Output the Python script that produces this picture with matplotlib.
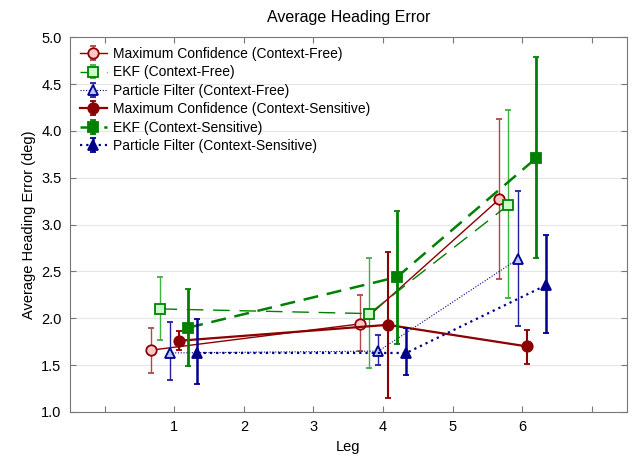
import numpy as np
import matplotlib
matplotlib.use('Agg')
import matplotlib.pyplot as plt

plt.rcParams['font.family'] = ['Liberation Sans', 'DejaVu Sans']

# legs and values
legs = [1, 4, 6]
offsets = [-0.333, -0.2, -0.067, 0.067, 0.2, 0.333]

labels = ['Maximum Confidence (Context-Free)',
          'EKF (Context-Free)',
          'Particle Filter (Context-Free)',
          'Maximum Confidence (Context-Sensitive)',
          'EKF (Context-Sensitive)',
          'Particle Filter (Context-Sensitive)']

mc_cf = [1.66, 1.94, 3.27]
mc_cf_lo = [1.42, 1.65, 2.42]
mc_cf_hi = [1.90, 2.25, 4.13]

ekf_cf = [2.10, 2.05, 3.21]
ekf_cf_lo = [1.77, 1.47, 2.22]
ekf_cf_hi = [2.44, 2.64, 4.22]

pf_cf = [1.63, 1.65, 2.63]
pf_cf_lo = [1.34, 1.50, 1.92]
pf_cf_hi = [1.96, 1.82, 3.36]

mc_cs = [1.76, 1.93, 1.70]
mc_cs_lo = [1.66, 1.15, 1.51]
mc_cs_hi = [1.86, 2.71, 1.88]

ekf_cs = [1.90, 2.44, 3.71]
ekf_cs_lo = [1.49, 1.73, 2.64]
ekf_cs_hi = [2.31, 3.15, 4.79]

pf_cs = [1.63, 1.63, 2.35]
pf_cs_lo = [1.30, 1.39, 1.84]
pf_cs_hi = [1.99, 1.90, 2.89]

series = [(mc_cf, mc_cf_lo, mc_cf_hi), (ekf_cf, ekf_cf_lo, ekf_cf_hi),
          (pf_cf, pf_cf_lo, pf_cf_hi), (mc_cs, mc_cs_lo, mc_cs_hi),
          (ekf_cs, ekf_cs_lo, ekf_cs_hi), (pf_cs, pf_cs_lo, pf_cs_hi)]

red = '#8B0000'
green = '#008000'
blue = '#00008B'
styles = [
    dict(color=red, ls='-', lw=1.0, marker='o', mfc='#FFC8C8', ecolor='#B04848', elw=1.0, ms=7.5),
    dict(color=green, ls=(0, (12, 7)), lw=1.0, marker='s', mfc='#C8FFC8', ecolor='#40B040', elw=1.0, ms=7.5),
    dict(color=blue, ls=(0, (1, 1.5)), lw=0.8, marker='^', mfc='#B8C8FF', ecolor='#2020A0', elw=1.0, ms=7.5),
    dict(color=red, ls='-', lw=1.6, marker='o', mfc=red, ecolor=red, elw=1.5, ms=7.5),
    dict(color=green, ls=(0, (6, 3.5)), lw=1.8, marker='s', mfc=green, ecolor=green, elw=2.0, ms=7.5),
    dict(color=blue, ls=(0, (1, 1.8)), lw=1.6, marker='^', mfc=blue, ecolor=blue, elw=1.8, ms=7.5),
]

fig = plt.figure(figsize=(6.35, 4.65), dpi=100)
ax = fig.add_axes([0.110, 0.114, 0.877, 0.806])

for i, ((y, lo, hi), st) in enumerate(zip(series, styles)):
    x = np.array(legs) + offsets[i]
    y = np.array(y)
    yerr = [y - np.array(lo), np.array(hi) - y]
    ax.errorbar(x, y, yerr=yerr, color=st['color'], ls=st['ls'], lw=st['lw'],
                marker=st['marker'], ms=st['ms'], mfc=st['mfc'], mec=st['color'],
                mew=1.3, ecolor=st['ecolor'], elinewidth=st['elw'], capsize=2.5,
                capthick=st['elw'], label=labels[i], zorder=3 + i)

ax.set_xlim(-0.5, 7.5)
ax.set_ylim(1.0, 5.0)
ax.set_xticks(range(0, 8))
ax.set_xticklabels(['', '1', '2', '3', '4', '5', '6', ''])
ax.set_yticks(np.arange(1.0, 5.01, 0.5))
ax.set_yticklabels(['%.1f' % v for v in np.arange(1.0, 5.01, 0.5)])
ax.yaxis.grid(True, color='#E6E6E6', lw=0.8)
ax.set_axisbelow(True)
ax.tick_params(direction='in', top=True, right=True, length=4, labelsize=10.5,
               color='#777777', pad=6)
for sp in ax.spines.values():
    sp.set_color('#777777')

ax.set_xlabel('Leg', fontsize=10.5)
ax.set_ylabel('Average Heading Error (deg)', fontsize=10.5)
ax.set_title('Average Heading Error', fontsize=11.5, pad=11)

ax.legend(loc='upper left', frameon=False, fontsize=10, handlelength=2.0,
          handletextpad=0.4, labelspacing=0.32, borderaxespad=0.2,
          borderpad=0.5, bbox_to_anchor=(0.0, 1.0))

fig.savefig('out.png', dpi=100)
